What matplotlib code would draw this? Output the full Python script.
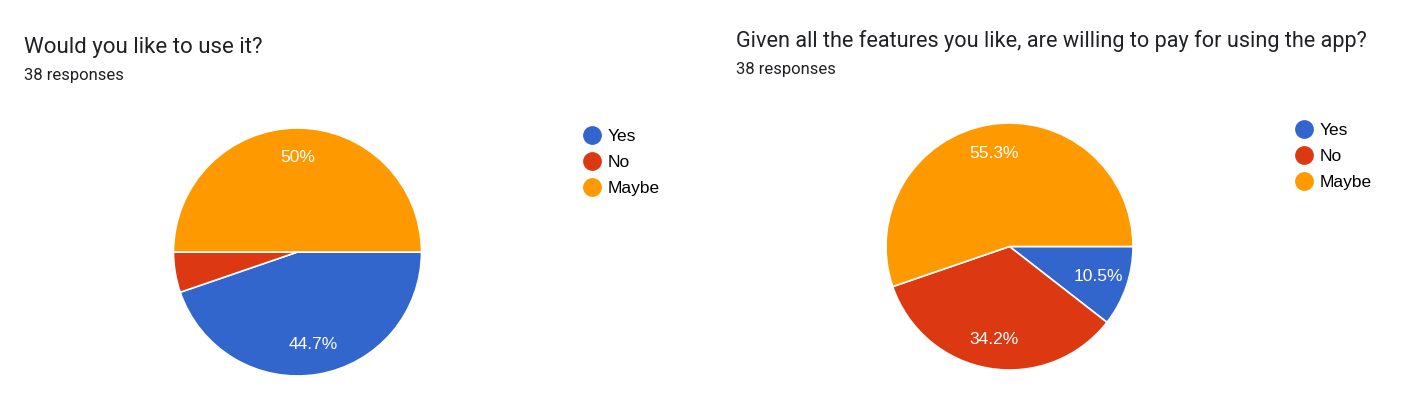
import matplotlib
matplotlib.use("Agg")
import matplotlib.pyplot as plt
from matplotlib.lines import Line2D

plt.rcParams['font.family'] = ['Roboto', 'DejaVu Sans']

# survey data (38 responses each)
categories = ['Yes', 'No', 'Maybe']
colors = ['#3366CC', '#DC3912', '#FF9900']

q1_title = 'Would you like to use it?'
q1_counts = [17, 2, 19]

q2_title = 'Given all the features you like, are willing to pay for using the app?'
q2_counts = [4, 13, 21]

subtitle = '38 responses'

W, H = 1420, 409
fig = plt.figure(figsize=(W / 100, H / 100), dpi=100)
chart_font = ['Liberation Sans', 'DejaVu Sans']


def fx(px):
    return px / W


def fy(py):
    return 1 - py / H


def pct_label(p):
    if p < 6:
        return ''
    s = f'{p:.1f}'
    if s.endswith('.0'):
        s = s[:-2]
    return s + '%'


def draw_panel(cx, cy, r, counts, title, tx, ty, lx, ly, title_size):
    ax = fig.add_axes([fx(cx - r), fy(cy + r), (2 * r) / W, (2 * r) / H])
    wedges, texts, autotexts = ax.pie(
        counts, colors=colors, startangle=0, counterclock=False,
        autopct=pct_label, pctdistance=0.76,
        wedgeprops=dict(edgecolor='white', linewidth=1.2),
        textprops=dict(color='white', fontsize=12.5, family=chart_font))
    ax.set_xlim(-1, 1)
    ax.set_ylim(-1, 1)
    ax.set_aspect('equal')
    ax.axis('off')

    fig.text(fx(tx), fy(ty), title, fontsize=title_size, color='#202124',
             va='baseline', ha='left')
    fig.text(fx(tx), fy(ty + 27), subtitle, fontsize=12, color='#202124',
             va='baseline', ha='left')

    handles = [Line2D([], [], marker='o', linestyle='', markersize=12.5,
                      markerfacecolor=c, markeredgecolor=c) for c in colors]
    fig.legend(handles, categories, loc='upper left',
               bbox_to_anchor=(fx(lx), fy(ly)), frameon=False,
               prop=dict(family=chart_font, size=12.5),
               handletextpad=0.25, labelspacing=0.62, handlelength=1.2,
               borderaxespad=0, borderpad=0)
    return ax


draw_panel(297.5, 252, 124, q1_counts, q1_title, 24, 53, 582, 129, 16)
draw_panel(1009.5, 246.5, 123.5, q2_counts, q2_title, 736, 47, 1294, 123, 15.6)

fig.savefig('out.png', dpi=100, facecolor='white')
